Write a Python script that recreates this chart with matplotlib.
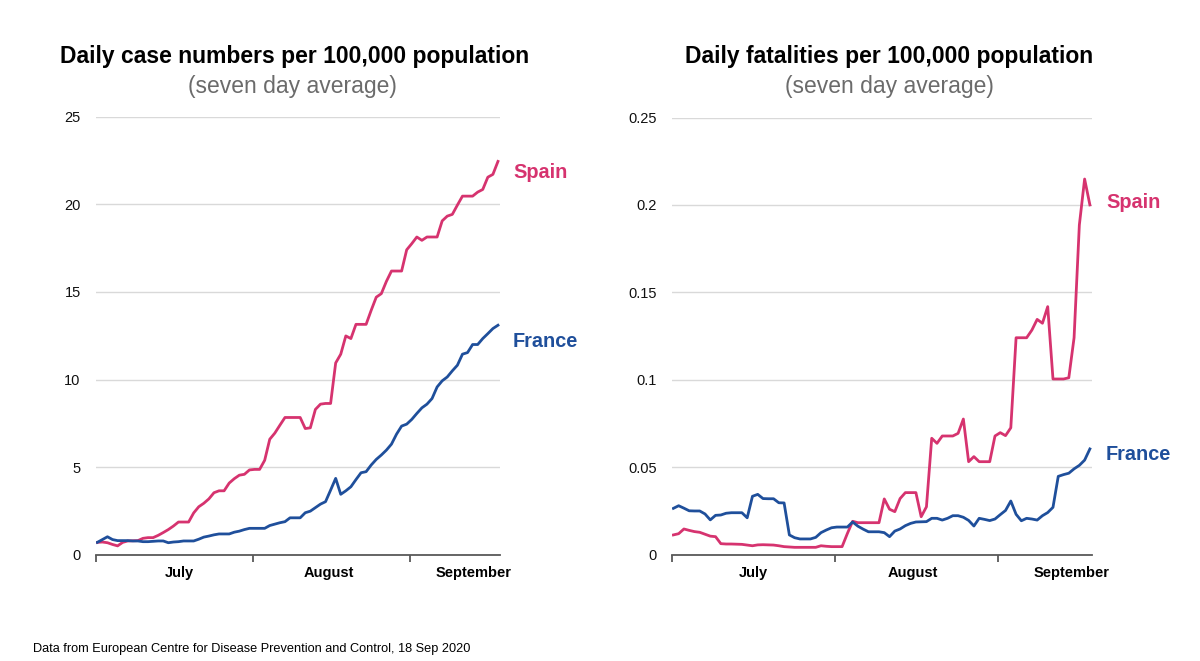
import matplotlib
matplotlib.use("Agg")
import matplotlib.pyplot as plt
import numpy as np

plt.rcParams['font.family'] = ['Liberation Sans', 'DejaVu Sans']

# ---------------- data (daily, ~29 Jun .. 17 Sep 2020) ----------------
cases_spain = [0.72, 0.74, 0.70, 0.60, 0.52, 0.72, 0.80, 0.81, 0.82, 0.95,
               0.99, 0.99, 1.12, 1.28, 1.45, 1.65, 1.88, 1.88, 1.88, 2.40,
               2.75, 2.95, 3.20, 3.55, 3.66, 3.66, 4.10, 4.35, 4.55, 4.60,
               4.85, 4.88, 4.88, 5.40, 6.60, 6.95, 7.40, 7.84, 7.84, 7.84,
               7.84, 7.21, 7.25, 8.30, 8.60, 8.64, 8.64, 10.95, 11.45, 12.49,
               12.34, 13.15, 13.15, 13.15, 13.95, 14.70, 14.90, 15.60, 16.19, 16.19,
               16.19, 17.40, 17.75, 18.13, 17.94, 18.13, 18.13, 18.13, 19.05, 19.32,
               19.42, 19.95, 20.46, 20.46, 20.46, 20.69, 20.84, 21.54, 21.70, 22.44]

cases_france = [0.72, 0.88, 1.04, 0.88, 0.82, 0.82, 0.82, 0.80, 0.80, 0.76,
                0.76, 0.78, 0.80, 0.80, 0.70, 0.74, 0.76, 0.80, 0.80, 0.80,
                0.90, 1.02, 1.08, 1.15, 1.20, 1.20, 1.20, 1.30, 1.36, 1.45,
                1.52, 1.52, 1.52, 1.52, 1.68, 1.76, 1.84, 1.90, 2.12, 2.12,
                2.12, 2.41, 2.50, 2.70, 2.90, 3.04, 3.70, 4.37, 3.46, 3.66,
                3.89, 4.30, 4.69, 4.75, 5.13, 5.45, 5.70, 5.98, 6.32, 6.89,
                7.35, 7.46, 7.73, 8.07, 8.39, 8.60, 8.92, 9.58, 9.93, 10.15,
                10.50, 10.82, 11.45, 11.54, 12.00, 12.00, 12.34, 12.62, 12.91, 13.10]

deaths_spain = [0.0112, 0.0119, 0.0146, 0.0138, 0.0131, 0.0127, 0.0116, 0.0105, 0.0102, 0.0062,
                0.0060, 0.0060, 0.0059, 0.0058, 0.0054, 0.0050, 0.0055, 0.0056, 0.0055, 0.0054,
                0.0050, 0.0045, 0.0043, 0.0041, 0.0041, 0.0041, 0.0041, 0.0041, 0.0050, 0.0047,
                0.0045, 0.0045, 0.0045, 0.0120, 0.0190, 0.0182, 0.0182, 0.0182, 0.0182, 0.0182,
                0.0318, 0.0259, 0.0245, 0.0320, 0.0354, 0.0354, 0.0354, 0.0216, 0.0273, 0.0665,
                0.0636, 0.0678, 0.0678, 0.0678, 0.0693, 0.0775, 0.0531, 0.0560, 0.0531, 0.0531,
                0.0531, 0.0678, 0.0697, 0.0680, 0.0725, 0.1240, 0.1240, 0.1240, 0.1284, 0.1345,
                0.1323, 0.1418, 0.1004, 0.1004, 0.1004, 0.1011, 0.1240, 0.1885, 0.2148, 0.2000]

deaths_france = [0.0264, 0.0279, 0.0265, 0.0250, 0.0249, 0.0249, 0.0232, 0.0198, 0.0224, 0.0226,
                 0.0236, 0.0239, 0.0239, 0.0239, 0.0210, 0.0333, 0.0344, 0.0320, 0.0319, 0.0319,
                 0.0296, 0.0295, 0.0112, 0.0096, 0.0089, 0.0089, 0.0089, 0.0098, 0.0125, 0.0140,
                 0.0153, 0.0157, 0.0157, 0.0157, 0.0186, 0.0162, 0.0145, 0.0130, 0.0130, 0.0130,
                 0.0125, 0.0102, 0.0134, 0.0146, 0.0165, 0.0178, 0.0186, 0.0187, 0.0188, 0.0207,
                 0.0207, 0.0197, 0.0207, 0.0222, 0.0222, 0.0213, 0.0195, 0.0163, 0.0207, 0.0201,
                 0.0194, 0.0203, 0.0228, 0.0252, 0.0306, 0.0230, 0.0193, 0.0207, 0.0203, 0.0197,
                 0.0222, 0.0240, 0.0270, 0.0447, 0.0457, 0.0465, 0.0490, 0.0510, 0.0540, 0.0604]

months = ["July", "August", "September"]
cases_yticks = [0, 5, 10, 15, 20, 25]
cases_yticklabels = ["0", "5", "10", "15", "20", "25"]
deaths_yticks = [0, 0.05, 0.10, 0.15, 0.20, 0.25]
deaths_yticklabels = ["0", "0.05", "0.1", "0.15", "0.2", "0.25"]

# ---------------- style ----------------
PINK = '#D6336F'
BLUE = '#1F4F9B'
GRID = '#D9D9D9'
AXIS = '#595959'

W, H = 1200, 661
fig = plt.figure(figsize=(W / 100, H / 100), dpi=100)


def fx(px):
    return px / W


def fy(py):
    return 1 - py / H


days = np.arange(len(cases_spain))


def setup(ax, yticks, yticklabels, ymax, month_pos):
    ax.set_xlim(-0.26, 79.4)
    ax.set_ylim(0, ymax)
    for s in ['top', 'right', 'left']:
        ax.spines[s].set_visible(False)
    ax.spines['bottom'].set_color(AXIS)
    ax.spines['bottom'].set_linewidth(1.3)
    ax.spines['bottom'].set_zorder(3)
    ax.set_yticks(yticks)
    ax.set_yticklabels(yticklabels)
    ax.tick_params(axis='y', length=0, pad=11, labelsize=10.5, labelcolor='#111111')
    ax.yaxis.grid(True, color=GRID, linewidth=1.0)
    ax.set_axisbelow(True)
    ax.set_xticks([-0.26, 30.6, 61.6])
    ax.set_xticklabels([])
    ax.tick_params(axis='x', which='major', length=5, width=1.3, color=AXIS, direction='out')
    ax.set_xticks(month_pos, minor=True)
    ax.set_xticklabels(months, minor=True, fontweight='bold', fontsize=10.5)
    ax.tick_params(axis='x', which='minor', length=0, pad=8)


# left panel: cases
ax1 = fig.add_axes([fx(96), fy(555), fx(500) - fx(96), fy(116.5) - fy(555)])
setup(ax1, cases_yticks, cases_yticklabels, 25, [16.2, 45.6, 74.2])
ax1.plot(days, cases_spain, color=PINK, lw=2.0, solid_joinstyle='round', zorder=4)
ax1.plot(days, cases_france, color=BLUE, lw=2.0, solid_joinstyle='round', zorder=4)

# right panel: fatalities
ax2 = fig.add_axes([fx(672), fy(554.5), fx(1092) - fx(672), fy(117.5) - fy(554.5)])
setup(ax2, deaths_yticks, deaths_yticklabels, 0.25, [15.1, 45.4, 75.6])
ax2.plot(days, deaths_spain, color=PINK, lw=2.0, solid_joinstyle='round', zorder=4)
ax2.plot(days, deaths_france, color=BLUE, lw=2.0, solid_joinstyle='round', zorder=4)

# titles
fig.text(fx(294.5), fy(57), "Daily case numbers per 100,000 population",
         ha='center', va='center', fontsize=16.5, fontweight='bold', color='black')
fig.text(fx(292), fy(86), "(seven day average)",
         ha='center', va='center', fontsize=16.5, color='#6B6B6B')
fig.text(fx(889), fy(57), "Daily fatalities per 100,000 population",
         ha='center', va='center', fontsize=16.5, fontweight='bold', color='black')
fig.text(fx(889), fy(86), "(seven day average)",
         ha='center', va='center', fontsize=16.5, color='#6B6B6B')

# series labels
fig.text(fx(513), fy(172), "Spain", ha='left', va='center', fontsize=14.3,
         fontweight='bold', color=PINK)
fig.text(fx(513), fy(342), "France", ha='left', va='center', fontsize=14.3,
         fontweight='bold', color=BLUE)
fig.text(fx(1106), fy(203), "Spain", ha='left', va='center', fontsize=14.3,
         fontweight='bold', color=PINK)
fig.text(fx(1106), fy(454), "France", ha='left', va='center', fontsize=14.3,
         fontweight='bold', color=BLUE)

# footer
fig.text(fx(33), fy(648.6), "Data from European Centre for Disease Prevention and Control, 18 Sep 2020",
         ha='left', va='center', fontsize=9.2, color='black')

fig.savefig("out.png", dpi=100, facecolor='white')
